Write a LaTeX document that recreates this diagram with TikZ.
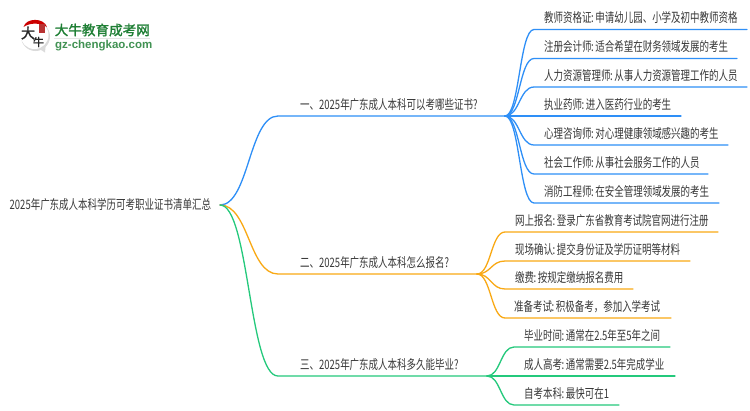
\documentclass[tikz,border=0pt]{standalone}
\usepackage{fontspec}
\setmainfont{Noto Sans CJK SC}[FakeStretch=0.73]
\newfontfamily\logofont{Noto Sans CJK SC}[FakeStretch=1.0,FakeBold=1.5]
\newfontfamily\urlfont{Liberation Sans}[FakeStretch=1.0]
\definecolor{bluel}{HTML}{2E8FF7}
\definecolor{orangel}{HTML}{F9A915}
\definecolor{greenl}{HTML}{24C97C}
\definecolor{txt}{HTML}{383838}
\definecolor{logog}{HTML}{1F7F35}
\tikzset{
  label/.style={inner sep=0pt,anchor=west,text=txt,font=\fontsize{13}{13}\selectfont},
  wire/.style={line width=1.3pt,line cap=round,line join=round},
}
\newcommand{\cn}{\kern-0.5pt:\kern-0.6pt\ }
% \fanwire{colour}{from}{to}{end}
\newcommand{\fanwire}[4]{%
  \draw[wire,#1] (#2) .. controls ($(#2)!0.5!(#3 |- #2)$) and ($(#3)!0.5!(#2 |- #3)$) .. (#3) -- (#4);}
\usetikzlibrary{calc}
\begin{document}
\begin{tikzpicture}[x=1pt,y=-1pt]
\useasboundingbox (0,0) rectangle (750,410);
\fill[white] (0,0) rectangle (750,410);

% logo
\fill[black!14] (35.5,36.5) circle (14.5);
\fill[black!14] (38,48) -- (45,52.5) -- (46,42) -- cycle;
\fill[white] (34.5,35) circle (14);
\fill[red!80!black] (23.5,27) .. controls (26,17.5) and (44,17.5) .. (47,27) .. controls (40,22.5) and (30,22.5) .. (23.5,27) -- cycle;
\fill[red!65!black!80] (38.5,24) rectangle (44.5,33);
\node[inner sep=0pt,font=\fontsize{14}{14}\logofont,text=black!85] (logoA) at (28,33) {大};
\node[inner sep=0pt,font=\fontsize{11}{11}\logofont,text=black!85] (logoB) at (38.5,42) {牛};
\node[inner sep=0pt,anchor=west,font=\fontsize{13.6}{14}\logofont,text=logog] (logoT) at (54.5,30) {大牛教育成考网};
\fill[black!10] (54,38) rectangle (150,39);
\node[inner sep=0pt,anchor=west,font=\fontsize{11.5}{12}\urlfont\bfseries,text=logog!85] (logoU) at (55,45.5) {gz-chengkao.com};

% root
\node[label] (root) at (9.5,205) {2025年广东成人本科学历可考职业证书清单汇总};
\coordinate (rootout) at (220,205);

% branches
\coordinate (b1s) at (278,116); \coordinate (b1) at (505,116);
\coordinate (b2s) at (278,274); \coordinate (b2) at (477,274);
\coordinate (b3s) at (278,376); \coordinate (b3) at (487,376);
\fanwire{bluel}{rootout}{b1s}{b1}
\fanwire{orangel}{rootout}{b2s}{b2}
\fanwire{greenl}{rootout}{b3s}{b3}
\node[label] (t1) at (300,105) {一、2025年广东成人本科可以考哪些证书?};
\node[label] (t2) at (300,263) {二、2025年广东成人本科怎么报名?};
\node[label] (t3) at (300,365) {三、2025年广东成人本科多久能毕业?};

% blue leaves
\foreach \n/\y/\e/\txt in {
  a/29.5/747/教师资格证\cn 申请幼儿园、小学及初中教师资格,
  b/58.5/737/注册会计师\cn 适合希望在财务领域发展的考生,
  c/87/747/人力资源管理师\cn 从事人力资源管理工作的人员,
  d/116/681/执业药师\cn 进入医药行业的考生,
  e/145/728/心理咨询师\cn 对心理健康领域感兴趣的考生,
  f/174/708/社会工作师\cn 从事社会服务工作的人员,
  g/203/719/消防工程师\cn 在安全管理领域发展的考生}{
  \coordinate (s\n) at (534,\y);
  \coordinate (e\n) at (\e,\y);
  \fanwire{bluel}{b1}{s\n}{e\n}
  \node[label] (l\n) at (544,\y-11.5) {\txt};
}

% orange leaves
\foreach \n/\y/\e/\x/\txt in {
  h/232/718/515/网上报名\cn 登录广东省教育考试院官网进行注册,
  i/261/690/515/现场确认\cn 提交身份证及学历证明等材料,
  j/289/633/515/缴费\cn 按规定缴纳报名费用,
  k/318/671/514/准备考试\cn 积极备考，参加入学考试}{
  \coordinate (s\n) at (505,\y);
  \coordinate (e\n) at (\e,\y);
  \fanwire{orangel}{b2}{s\n}{e\n}
  \node[label] (l\n) at (\x,\y-11.5) {\txt};
}

% green leaves
\foreach \n/\y/\e/\txt in {
  m/347/670/毕业时间\cn 通常在2.5年至5年之间,
  n/376/675/成人高考\cn 通常需要2.5年完成学业,
  o/405/619/自考本科\cn 最快可在1}{
  \coordinate (s\n) at (514,\y);
  \coordinate (e\n) at (\e,\y);
  \fanwire{greenl}{b3}{s\n}{e\n}
  \node[label] (l\n) at (524,\y-11.5) {\txt};
}
\end{tikzpicture}
\end{document}
